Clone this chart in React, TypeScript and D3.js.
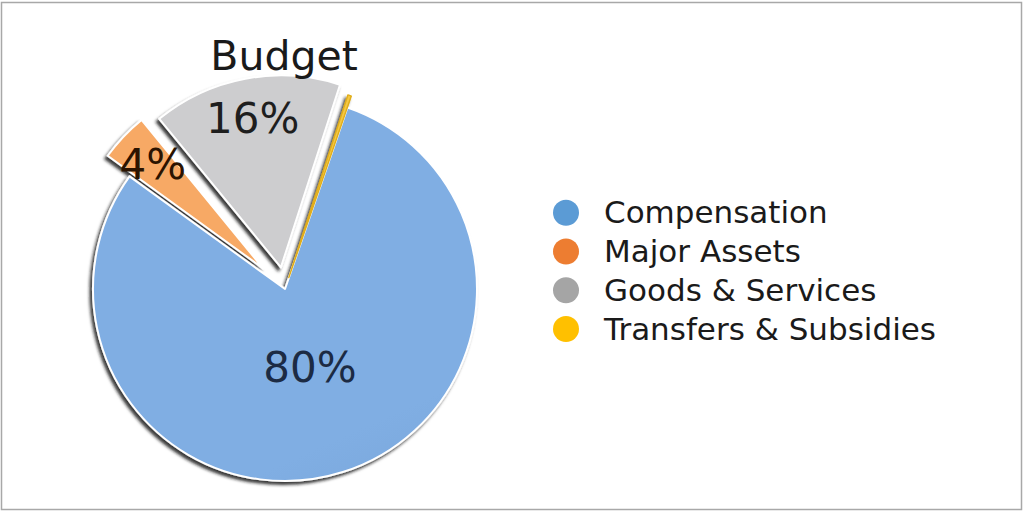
import * as d3 from "d3";

// budget split (percent of total)
const categories = ["Compensation", "Major Assets", "Goods & Services", "Transfers & Subsidies"];
const shares = [79.7, 4.1, 15.9, 0.3];
const legendColors = ["#5b9bd5", "#ed7d31", "#a5a5a5", "#ffc000"];
const sliceTop = ["#80aee3", "#f7a965", "#cdcdcf", "#f5c842"];
const sliceBottom = ["#628cbe", "#e58640", "#b8b8bb", "#e0ad1a"];
const labelColors = ["#1c2b44", "#2b1300", "#1e1e1e", "#1e1e1e"];
const title = "Budget";

const W = 1023;
const H = 511;
const cx = 285;
const cy = 289;
const R = 192;
const explode = [0, 30, 22, 12];
const font = "'DejaVu Sans', Arial, sans-serif";

type Slice = { name: string; value: number; i: number };

export default function App() {
  const data: Slice[] = categories.map((name, i) => ({ name, value: shares[i], i }));
  const start = (19 * Math.PI) / 180;
  const pie = d3
    .pie<Slice>()
    .sort(null)
    .value((d) => d.value)
    .startAngle(start)
    .endAngle(start + 2 * Math.PI);
  const arcs = pie(data);
  const arc = d3.arc<d3.PieArcDatum<Slice>>().innerRadius(0).outerRadius(R);

  const legendY = d3.scalePoint<string>().domain(categories).range([212.7, 329]);

  const offset = (a: d3.PieArcDatum<Slice>, dist: number) => {
    const mid = (a.startAngle + a.endAngle) / 2;
    return [Math.sin(mid) * dist, -Math.cos(mid) * dist];
  };

  // the tiny slice keeps a coloured outline so it still shows as a line
  const thin = (a: d3.PieArcDatum<Slice>) => a.endAngle - a.startAngle < 0.05;

  return (
    <svg
      width={W}
      height={H}
      viewBox={`0 0 ${W} ${H}`}
      style={{ position: "absolute", left: 0, top: 0, background: "#fff" }}
    >
      <defs>
        {arcs.map((a) => (
          <linearGradient
            key={a.data.name}
            id={`g${a.index}`}
            gradientUnits="userSpaceOnUse"
            x1={cx - R * 0.6}
            y1={cy - R}
            x2={cx + R * 0.3}
            y2={cy + R}
          >
            <stop offset="0%" stopColor={sliceTop[a.index]} />
            <stop offset="100%" stopColor={sliceBottom[a.index]} />
          </linearGradient>
        ))}
        <filter id="shadow" x="-20%" y="-20%" width="140%" height="140%">
          <feDropShadow dx={-2.5} dy={3} stdDeviation={1.4} floodColor="#141414" floodOpacity={0.85} />
        </filter>
      </defs>

      <rect x={1.5} y={2.5} width={1020} height={507} fill="#fff" stroke="#a8a8a8" strokeWidth={1.5} />

      <g filter="url(#shadow)">
        {arcs.map((a) => {
          const [dx, dy] = offset(a, explode[a.index]);
          return (
            <path
              key={a.data.name}
              d={arc(a) ?? ""}
              transform={`translate(${cx + dx},${cy + dy})`}
              fill={`url(#g${a.index})`}
              stroke={thin(a) ? sliceBottom[a.index] : "#fff"}
              strokeWidth={thin(a) ? 1.4 : 2}
              strokeLinejoin="round"
            />
          );
        })}
      </g>

      {arcs.map((a) => {
        const pct = Math.round(a.data.value);
        if (pct < 1) return null;
        const [dx, dy] = offset(a, explode[a.index]);
        const [lx, ly] = offset(a, R * (a.data.value > 50 ? 0.43 : 0.79));
        return (
          <text
            key={a.data.name}
            x={cx + dx + lx}
            y={cy + dy + ly}
            textAnchor="middle"
            dominantBaseline="central"
            style={{ font: `42px ${font}`, fill: labelColors[a.index] }}
          >
            {pct}%
          </text>
        );
      })}

      <text x={284} y={70} textAnchor="middle" style={{ font: `41px ${font}`, fill: "#1a1a1a" }}>
        {title}
      </text>

      {categories.map((c, i) => (
        <g key={c} transform={`translate(0,${legendY(c)})`}>
          <circle cx={566} cy={0} r={13} fill={legendColors[i]} />
          <text x={604} y={10.5} style={{ font: `31px ${font}`, fill: "#1a1a1a" }}>
            {c}
          </text>
        </g>
      ))}
    </svg>
  );
}
